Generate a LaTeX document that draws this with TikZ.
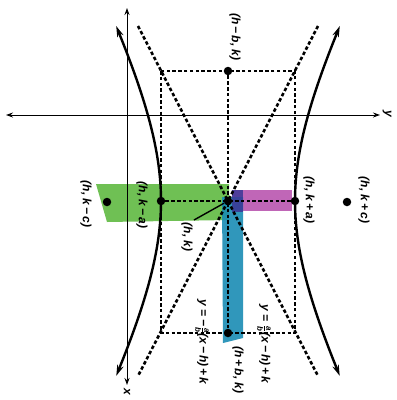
\documentclass[tikz,border=0pt]{standalone}
\usepackage{fontspec}
\usepackage{amsmath}
\setmainfont{Liberation Sans}
\usetikzlibrary{arrows.meta}
\definecolor{hlgreen}{RGB}{95,185,65}
\definecolor{hlpurple}{RGB}{185,85,175}
\definecolor{hlblue}{RGB}{25,140,180}
\definecolor{hlnavy}{RGB}{60,55,150}
\newcommand{\fr}[2]{\ensuremath{\tfrac{\text{#1}}{\text{#2}}}}
\begin{document}
\begin{tikzpicture}[x=1pt,y=-1pt,
  lab/.style={rotate=-90, font=\fontsize{12}{14}\selectfont\bfseries\itshape, inner sep=0pt},
  dashln/.style={line width=2.6pt, dash pattern=on 3.5pt off 2.3pt},
  axisln/.style={line width=1pt, {Stealth[length=7pt,width=5pt]}-{Stealth[length=7pt,width=5pt]}},
  branch/.style={line width=2.4pt, {Stealth[length=11pt,width=6.5pt]}-{Stealth[length=11pt,width=6.5pt]}},
  dot/.style={circle, fill=black, inner sep=0pt, minimum size=8.5pt}]
\useasboundingbox (0,0) rectangle (397,400);
% highlights
\fill[hlgreen, opacity=0.9] (96,184) -- (229,184) -- (229,220) -- (107,222) -- cycle;
\fill[hlpurple, opacity=0.9] (232,190) -- (292,190) -- (292,211) -- (232,211) -- cycle;
\fill[hlblue, opacity=0.9] (222,197) -- (243,197) -- (243,338) -- (223,343) -- cycle;
\fill[hlnavy, opacity=0.85] (232,190) -- (243,190) -- (243,212) -- (232,212) -- cycle;
% key points
\coordinate (C) at (228,201);
\coordinate (xtop) at (127,8);
\coordinate (xbot) at (127,385);
\coordinate (yleft) at (6,115);
\coordinate (yright) at (380,115);
\coordinate (R1) at (161,71);
\coordinate (R3) at (295,333);
\coordinate (A1) at (138,26);
\coordinate (A2) at (318,376);
\coordinate (A3) at (318,26);
\coordinate (A4) at (138,376);
\coordinate (P) at (194,220);
% axes
\draw[axisln] (xtop) -- (xbot);
\draw[axisln] (yleft) -- (yright);
\node[lab, font=\fontsize{12}{13}\selectfont\bfseries\itshape] (xl) at (127,392) {x};
\node[lab, font=\fontsize{12}{13}\selectfont\bfseries\itshape] (yl) at (387,114) {y};
% rectangle, axes of symmetry, asymptotes
\draw[dashln] (R1) rectangle (R3);
\draw[dashln] (A1) -- (A2);
\draw[dashln] (A3) -- (A4);
% hyperbola
\draw[branch] plot[domain=-1.1:1.1, samples=70, variable=\t] ({228-67*cosh(\t)},{201+131*sinh(\t)});
\draw[branch] plot[domain=-1.1:1.1, samples=70, variable=\t] ({228+67*cosh(\t)},{201+131*sinh(\t)});
% points
\node[dot] (V1) at (161,201) {};
\node[dot] (V2) at (295,201) {};
\node[dot] (B1) at (228,71) {};
\node[dot] (B2) at (228,333) {};
\node[dot] (F1) at (107,202) {};
\node[dot] (F2) at (347,202) {};
\node[dot] (Cd) at (C) {};
\draw[dashln] (V1) -- (V2);
\draw[dashln] (B1) -- (B2);
% labels
\node[lab] (lb1) at (235,37) {(h\,−\,b, k)};
\node[lab] (lf1) at (86,204) {(h, k\,−\,c)};
\node[lab] (lv1) at (142,205) {(h, k\,−\,a)};
\node[lab] (lc) at (187,237) {(h, k)};
\draw[line width=1.4pt] (P) -- (Cd);
\node[lab] (lv2) at (309,200) {(h, k\,+\,a)};
\node[lab] (lf2) at (364,200) {(h, k\,+\,c)};
\node[lab] (lb2) at (238,370) {(h\,+\,b, k)};
\node[lab] (eq1) at (202,342) {y = −\fr{a}{b}(x\,−\,h)\,+\,k};
\node[lab] (eq2) at (264,344) {y = \fr{a}{b}(x\,−\,h)\,+\,k};
\end{tikzpicture}
\end{document}
